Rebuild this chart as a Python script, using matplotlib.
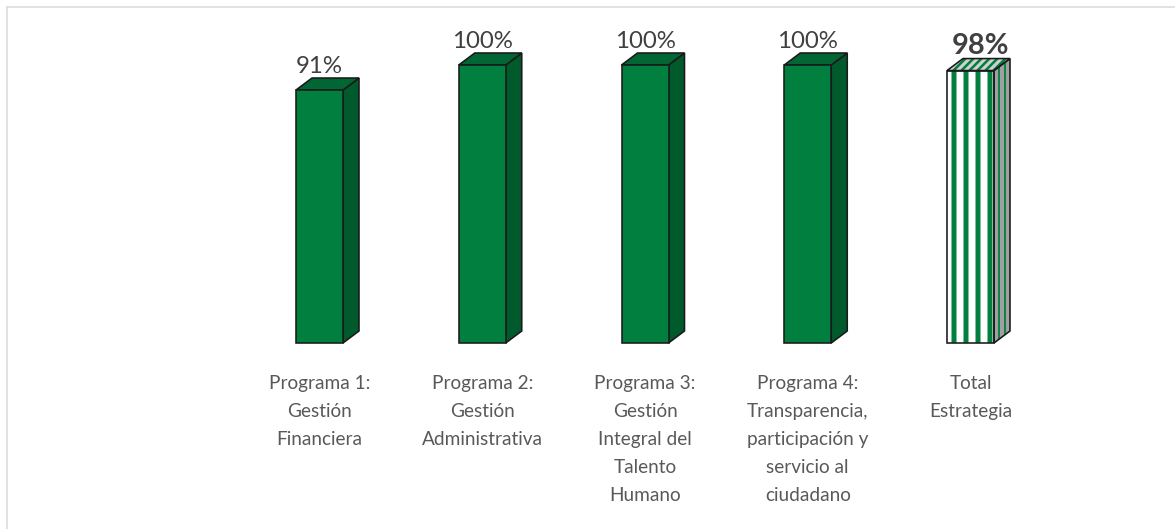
import matplotlib
matplotlib.use("Agg")
import matplotlib.pyplot as plt
import matplotlib.transforms as mtransforms
from matplotlib.patches import Polygon
from matplotlib.lines import Line2D

categories = [
    "Programa 1:\nGestión\nFinanciera",
    "Programa 2:\nGestión\nAdministrativa",
    "Programa 3:\nGestión\nIntegral del\nTalento\nHumano",
    "Programa 4:\nTransparencia,\nparticipación y\nservicio al\nciudadano",
    "Total\nEstrategia",
]
values = [0.91, 1.00, 1.00, 1.00, 0.98]
value_labels = ["91%", "100%", "100%", "100%", "98%"]

FONT = ["Lato", "DejaVu Sans"]
DPI = 72
W, H = 1175, 529
fig = plt.figure(figsize=(W / DPI, H / DPI), dpi=DPI)

step_px = 162.75
unit_px = 278.0
left_px = 319.5 - 0.5 * step_px
base_px = 343.0
ymax = 1.2
ax = fig.add_axes([left_px / W, (H - base_px) / H, 5 * step_px / W, ymax * unit_px / H])
ax.set_xlim(-0.5, 4.5)
ax.set_ylim(0, ymax)
for s in ax.spines.values():
    s.set_visible(False)
ax.set_yticks([])
ax.set_xticks([])

hw = 23.5 / step_px
dx = 16.0 / step_px
dy = 12.0 / unit_px

front_c = "#007f3f"
side_c = "#005a2c"
top_c = "#006633"
edge = "#1a1a1a"


def poly(pts, **kw):
    p = Polygon(pts, closed=True, clip_on=False, **kw)
    ax.add_patch(p)
    return p


def hatch_poly(pts, face, hcolor, hatch, hlw):
    poly(pts, facecolor=face, edgecolor="none", linewidth=0, zorder=2)
    p = poly(pts, fill=False, edgecolor=hcolor, hatch=hatch, linewidth=0, zorder=3)
    if hasattr(p, "set_hatch_linewidth"):
        p.set_hatch_linewidth(hlw)
    poly(pts, fill=False, edgecolor=edge, linewidth=1.6, zorder=4)


up5 = ax.transData + mtransforms.ScaledTranslation(0, 5 / 72, fig.dpi_scale_trans)
down = ax.get_xaxis_transform() + mtransforms.ScaledTranslation(0, -32 / 72, fig.dpi_scale_trans)

for i, v in enumerate(values):
    x0, x1 = i - hw, i + hw
    front = [(x0, 0), (x1, 0), (x1, v), (x0, v)]
    side = [(x1, 0), (x1 + dx, dy), (x1 + dx, v + dy), (x1, v)]
    top = [(x0, v), (x1, v), (x1 + dx, v + dy), (x0 + dx, v + dy)]
    if i < len(values) - 1:
        poly(side, facecolor=side_c, edgecolor=edge, linewidth=1.6, zorder=2)
        poly(top, facecolor=top_c, edgecolor=edge, linewidth=1.6, zorder=2)
        poly(front, facecolor=front_c, edgecolor=edge, linewidth=1.6, zorder=3)
        ax.text(i, v + dy, value_labels[i], ha="center", va="baseline",
                fontfamily=FONT, fontsize=24, color="#404040", transform=up5)
    else:
        hatch_poly(side, "#a0a0a0", front_c, "||", 1.8)
        hatch_poly(top, "#d0d0d0", front_c, "///", 2.5)
        hatch_poly(front, "white", front_c, "|", 5.0)
        ax.text(i + 10 / step_px, v + dy, value_labels[i], ha="center", va="baseline",
                fontfamily=FONT, fontsize=29, fontweight="bold", color="#404040", transform=up5)

    ax.text(i, 0, categories[i], ha="center", va="top", multialignment="center",
            fontfamily=FONT, fontsize=19, color="#595959", linespacing=1.78,
            transform=down)

# chart area frame (top and left edges visible)
fig.add_artist(Line2D([6.5 / W, 1.0], [1 - 7 / H, 1 - 7 / H], transform=fig.transFigure, color="#d9d9d9", linewidth=1.5))
fig.add_artist(Line2D([6.5 / W, 6.5 / W], [0, 1 - 7 / H], transform=fig.transFigure, color="#d9d9d9", linewidth=1.5))

fig.savefig("out.png", dpi=DPI)
